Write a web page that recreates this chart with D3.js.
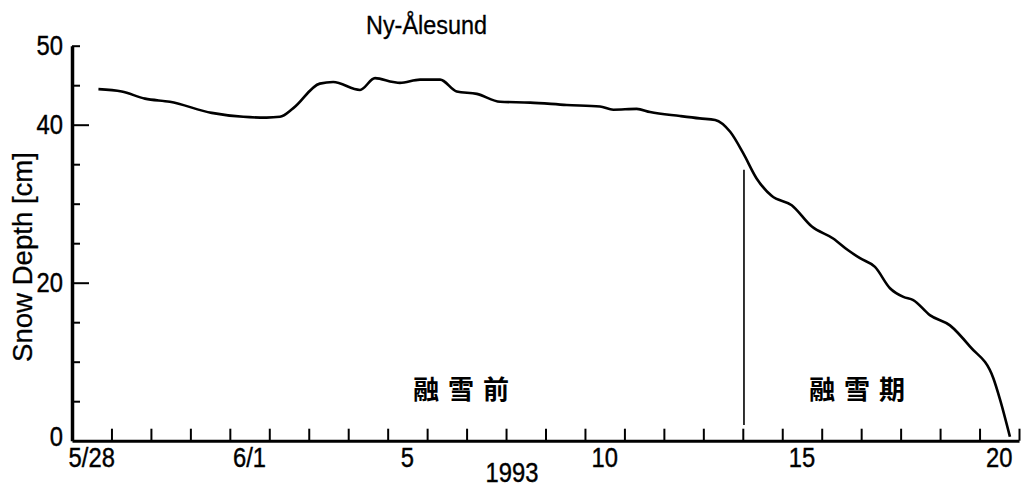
<!DOCTYPE html>
<html><head><meta charset="utf-8">
<script src="https://cdn.jsdelivr.net/npm/d3@7"></script>
<style>body{margin:0;background:#fff}</style>
</head><body>
<svg id="chart" width="1025" height="488"></svg>
<script>
// Snow depth at Ny-Ålesund, 1993 (day offset from 5/28 00:00, depth in cm)
const dayOffset = [0.67,1.26,1.85,2.48,3.54,4.34,4.93,5.27,5.61,6.28,6.62,7.30,7.68,8.14,8.31,8.82,9.33,9.75,10.26,10.85,11.61,12.54,13.38,13.72,14.31,14.65,15.41,15.91,16.30,16.68,17.01,17.35,17.73,18.24,18.75,19.29,19.67,19.97,20.35,20.73,21.07,21.32,21.74,22.25,22.76,23.35,23.52,23.77];
const snowDepth = [44.5,44.2,43.3,42.9,41.5,41.0,40.9,41.0,42.1,45.2,45.4,44.4,45.9,45.4,45.3,45.7,45.7,44.2,43.9,42.9,42.8,42.5,42.3,41.9,42.0,41.6,41.1,40.8,40.6,39.1,36.4,33.2,31.0,29.8,27.1,25.6,24.1,23.1,22.0,19.3,18.2,17.8,15.9,14.6,11.9,7.9,5.2,0.5];
const xTickLabels = ["5/28","6/1","5","10","15","20"];
const xTickDays = [0,4,8,13,18,23];
const xTickMarks = d3.range(1,25);
const yTickValues = [5,10,15,20,25,30,35,40,45,50];
const yLabelValues = [0,20,40,50];
const periodLabels = ["融雪前","融雪期"];
const periodCenters = [9.87,19.91];
const meltOnsetDay = 17.03;
const meltLineRange = [2.0,34.3];
const title = "Ny-Ålesund";
const yTitle = "Snow Depth [cm]";
const yearLabel = "1993";

const svg = d3.select("#chart");
const x = d3.scaleLinear().domain([0,24]).range([72,1019]);
const y = d3.scaleLinear().domain([0,50]).range([440.7,45.7]);
const numFont = "'Liberation Sans',Arial,sans-serif";
const squeeze = 0.88;

// axes
const xAxis = d3.axisBottom(x).tickValues(xTickMarks).tickSizeInner(-12).tickSizeOuter(0).tickFormat("");
const gx = svg.append("g").attr("transform",`translate(0,${y(0)})`).call(xAxis);
gx.select(".domain").attr("stroke","#000").attr("stroke-width",3);
gx.selectAll(".tick line").attr("stroke","#000").attr("stroke-width",2);

const yAxis = d3.axisLeft(y).tickValues(yTickValues).tickSizeInner(-8).tickSizeOuter(0).tickFormat("");
const gy = svg.append("g").attr("transform",`translate(${x(0)},0)`).call(yAxis);
gy.select(".domain").attr("stroke","#000").attr("stroke-width",3.5);
gy.selectAll(".tick line").attr("stroke","#000").attr("stroke-width",2)
  .attr("x2", d => (d===20||d===40) ? 17 : 8);

// y labels
svg.append("g").selectAll("text").data(yLabelValues).join("text")
  .attr("transform", d => `translate(${x(0)-9},${d===0 ? y(d)-4 : y(d)}) scale(${squeeze},1)`)
  .attr("dy","0.36em").attr("text-anchor","end")
  .attr("font-family",numFont).attr("font-size",27)
  .attr("stroke","#000").attr("stroke-width",0.4).text(d => d);

// x labels
svg.append("g").selectAll("text").data(xTickDays).join("text")
  .attr("transform", d => `translate(${x(d+0.5)},467) scale(${squeeze},1)`)
  .attr("text-anchor","middle")
  .attr("font-family",numFont).attr("font-size",27)
  .attr("stroke","#000").attr("stroke-width",0.4)
  .text((d,i) => xTickLabels[i]);

svg.append("text").attr("transform",`translate(512,482) scale(${squeeze},1)`).attr("text-anchor","middle")
  .attr("font-family",numFont).attr("font-size",27)
  .attr("stroke","#000").attr("stroke-width",0.4).text(yearLabel);

// title
svg.append("text").attr("x",426.5).attr("y",34).attr("text-anchor","middle")
  .attr("font-family","'Liberation Sans',sans-serif").attr("font-size",25)
  .attr("stroke","#000").attr("stroke-width",0.3)
  .attr("textLength",121).attr("lengthAdjust","spacingAndGlyphs").text(title);

// y title
svg.append("text").attr("transform","translate(32,257) rotate(-90)")
  .attr("text-anchor","middle")
  .attr("font-family","'Liberation Sans',sans-serif").attr("font-size",27)
  .attr("stroke","#000").attr("stroke-width",0.3)
  .attr("textLength",210).attr("lengthAdjust","spacingAndGlyphs").text(yTitle);

// melt onset divider
svg.append("line").attr("x1",x(meltOnsetDay)).attr("x2",x(meltOnsetDay))
  .attr("y1",y(meltLineRange[0])).attr("y2",y(meltLineRange[1]))
  .attr("stroke","#000").attr("stroke-width",1.6);

// period labels
svg.append("g").selectAll("text").data(periodLabels).join("text")
  .attr("x",(d,i)=>x(periodCenters[i])+4).attr("y",399)
  .attr("text-anchor","middle")
  .attr("font-family","'Noto Sans CJK JP',sans-serif").attr("font-weight","bold")
  .attr("font-size",26).attr("letter-spacing","9px").text(d=>d);

// line
const line = d3.line().x((d,i)=>x(dayOffset[i])).y(d=>y(d)).curve(d3.curveMonotoneX);
svg.append("path").datum(snowDepth).attr("d",line)
  .attr("fill","none").attr("stroke","#000").attr("stroke-width",2.6)
  .attr("stroke-linejoin","round");
</script>
</body></html>
